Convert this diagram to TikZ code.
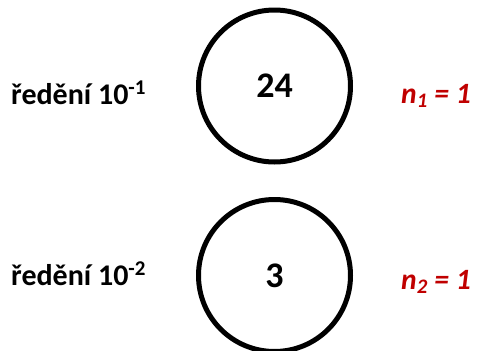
\documentclass[tikz,border=0pt]{standalone}
\usepackage{fontspec}
\setmainfont{Carlito}
\usepackage{tikz}

\definecolor{countred}{RGB}{192,0,0}

\begin{document}
\begin{tikzpicture}[x=1pt,y=-1pt,
  plate/.style ={circle, draw, line width=5pt, inner sep = 0pt, minimum size=152pt},
  count/.style ={font=\fontsize{36}{40}\selectfont\bfseries},
  dilution/.style ={anchor=base west, inner sep=0pt, font=\fontsize{30}{34}\selectfont\bfseries},
  result/.style ={anchor=base west, inner sep=0pt, text=countred, font=\fontsize{29.5}{34}\selectfont\bfseries\itshape}]
 \useasboundingbox (0,0) rectangle (480,351);
 \node[plate] (P1) at (274.5,86) {};
 \node[plate] (P2) at (274.5,275.5) {};
 \node[count] (C1) at (P1) {24};
 \node[count] (C2) at (P2) {3};
 \node[dilution] (D1) at (11,104) {ředění 10\textsuperscript{-1}};
 \node[dilution] (D2) at (11,285) {ředění 10\textsuperscript{-2}};
 \node[result] (N1) at (401,103) {n\textsubscript{1} = 1};
 \node[result] (N2) at (401,289) {n\textsubscript{2} = 1};
\end{tikzpicture}
\end{document}
